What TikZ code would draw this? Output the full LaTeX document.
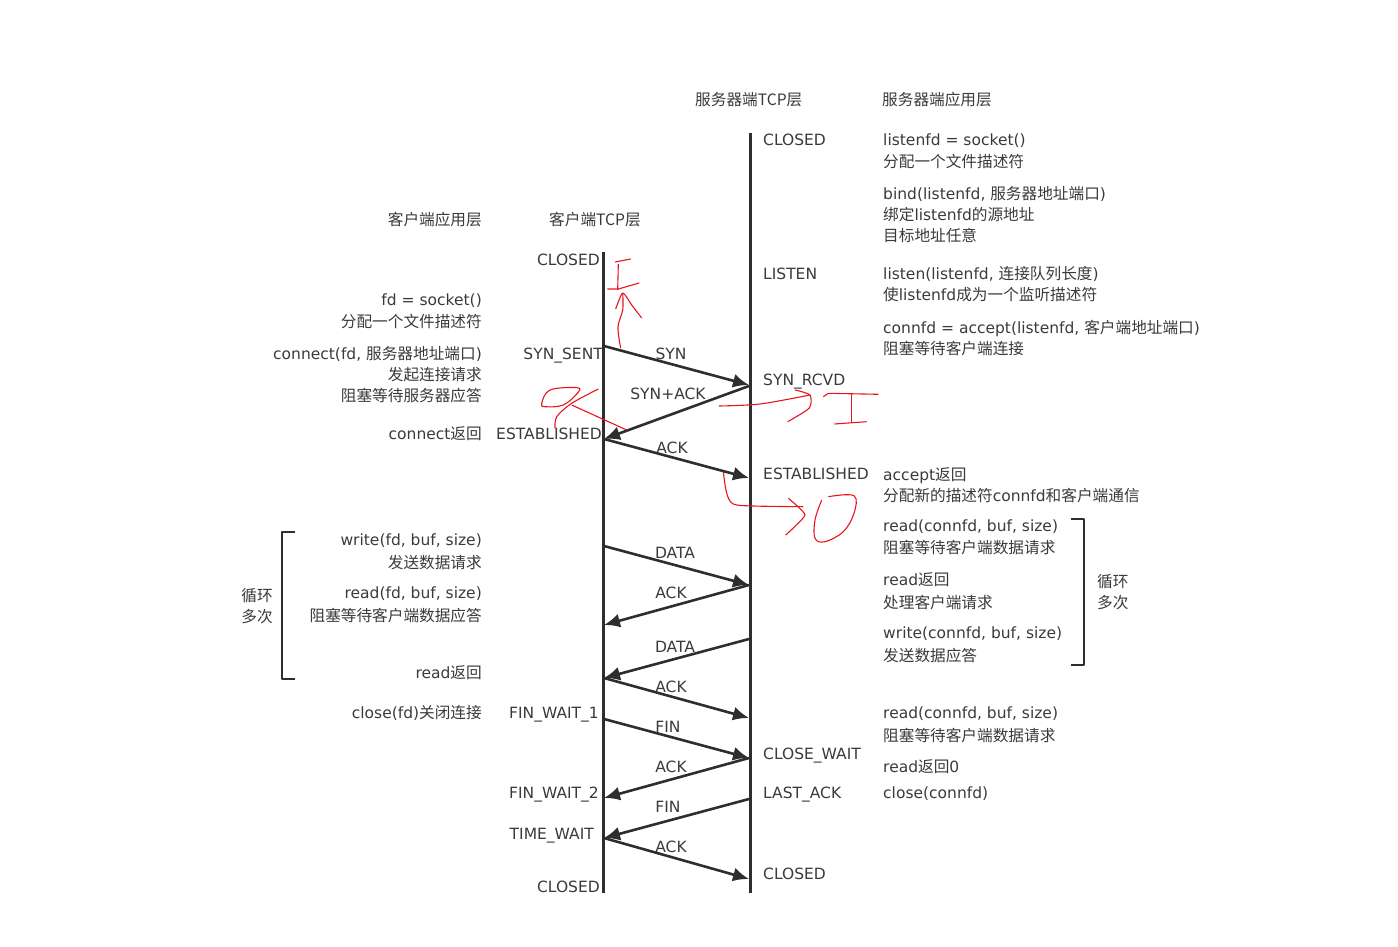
\documentclass[tikz,border=0pt]{standalone}
\usepackage{fontspec}
\usetikzlibrary{arrows.meta}
\setmainfont{DejaVu Sans}
\newfontfamily\cjk[Scale=1.01]{Noto Sans CJK SC}
\newcommand{\zh}[1]{{\cjk #1}}
\definecolor{txtgray}{HTML}{3A3A3A}
\definecolor{linegray}{HTML}{2E2E2E}
\definecolor{inkred}{HTML}{E8141C}
\tikzset{
    lab/.style={inner sep=0mm, text=txtgray, execute at begin node=\strut,
        font=\fontsize{15.5}{21}\selectfont, yshift=9.2pt},
    rlab/.style={lab, anchor=north east, align=right},
    llab/.style={lab, anchor=north west, align=left},
    msglab/.style={lab, anchor=north},
    life/.style={draw=linegray, line width=3pt},
    msg/.style={draw=linegray, line width=2.6pt, -{Latex[length=16pt,width=14pt]}},
    brack/.style={draw=linegray, line width=2.8pt, line join=round},
    ink/.style={draw=inkred, line width=1.1pt, line join=round}
}

\begin{document}
\begin{tikzpicture}[x=1pt, y=-1pt]
    \useasboundingbox (0,0) rectangle (1398,947);
    % ends of the two time lines
    \coordinate (ctop) at (603.5,252);
    \coordinate (cbot) at (603.5,893);
    \coordinate (stop) at (750,133);
    \coordinate (sbot) at (750,893);

    % ends of the messages
    \coordinate (c1) at (604,346);  \coordinate (s1) at (749,385);
    \coordinate (s2) at (749,386);  \coordinate (c2) at (604,439);
    \coordinate (c3) at (604,439);  \coordinate (s3) at (749,478);
    \coordinate (c4) at (604,546);  \coordinate (s4) at (749,585);
    \coordinate (s5) at (749,585);  \coordinate (c5) at (604,625);
    \coordinate (s6) at (749,639);  \coordinate (c6) at (604,678);
    \coordinate (c7) at (604,678);  \coordinate (s7) at (749,718);
    \coordinate (c8) at (604,719);  \coordinate (s8) at (749,758);
    \coordinate (s9) at (749,758);  \coordinate (c9) at (604,798);
    \coordinate (s10) at (749,799); \coordinate (c10) at (604,838);
    \coordinate (c11) at (604,838); \coordinate (s11) at (749,879);

    % brackets
    \coordinate (bl1) at (295,532); \coordinate (bl2) at (282,532);
    \coordinate (bl3) at (282,679); \coordinate (bl4) at (295,679);
    \coordinate (br1) at (1071,519); \coordinate (br2) at (1084,519);
    \coordinate (br3) at (1084,665); \coordinate (br4) at (1071,665);

    % column heads
    \node (hca) [rlab] at (482,220) {\zh{客户端应用层}};
    \node (hct) [llab] at (549,220) {\zh{客户端TCP层}};
    \node (hst) [llab] at (695,100) {\zh{服务器端TCP层}};
    \node (hsa) [llab] at (882,100) {\zh{服务器端应用层}};

    % client states
    \node (cs1) [rlab] at (600,260) {CLOSED};
    \node (cs2) [rlab] at (603,354) {SYN\_SENT};
    \node (cs3) [rlab] at (602,434) {ESTABLISHED};
    \node (cs4) [rlab] at (599,713) {FIN\_WAIT\_1};
    \node (cs5) [rlab] at (599,793) {FIN\_WAIT\_2};
    \node (cs6) [rlab] at (594,834) {TIME\_WAIT};
    \node (cs7) [rlab] at (600,887) {CLOSED};

    % server states
    \node (ss1) [llab] at (763,140) {CLOSED};
    \node (ss2) [llab] at (763,274) {LISTEN};
    \node (ss3) [llab] at (763,380) {SYN\_RCVD};
    \node (ss4) [llab] at (763,474) {ESTABLISHED};
    \node (ss5) [llab] at (763,754) {CLOSE\_WAIT};
    \node (ss6) [llab] at (763,793) {LAST\_ACK};
    \node (ss7) [llab] at (763,874) {CLOSED};

    % client calls
    \node (ca1) [rlab] at (482,303) {fd = socket()\\[1pt]\zh{分配一个文件描述符}};
    \node (ca2) [rlab] at (482,355) {connect(fd, \zh{服务器地址端口})\\\zh{发起连接请求}\\\zh{阻塞等待服务器应答}};
    \node (ca3) [rlab] at (482,434) {connect\zh{返回}};
    \node (ca4) [rlab] at (482,543) {write(fd, buf, size)\\[2pt]\zh{发送数据请求}};
    \node (ca5) [rlab] at (482,596) {read(fd, buf, size)\\[2pt]\zh{阻塞等待客户端数据应答}};
    \node (ca6) [rlab] at (482,673) {read\zh{返回}};
    \node (ca7) [rlab] at (482,713) {close(fd)\zh{关闭连接}};
    \node (cl) [rlab] at (273,597) {\zh{循环}\\\zh{多次}};

    % server calls
    \node (sa1) [llab] at (883,143) {listenfd = socket()\\[1pt]\zh{分配一个文件描述符}};
    \node (sa2) [llab] at (883,195) {bind(listenfd, \zh{服务器地址端口})\\\zh{绑定}listenfd\zh{的源地址}\\\zh{目标地址任意}};
    \node (sa3) [llab] at (883,275) {listen(listenfd, \zh{连接队列长度})\\\zh{使}listenfd\zh{成为一个监听描述符}};
    \node (sa4) [llab] at (883,329) {connfd = accept(listenfd, \zh{客户端地址端口})\\\zh{阻塞等待客户端连接}};
    \node (sa5) [llab] at (883,477) {accept\zh{返回}\\\zh{分配新的描述符}connfd\zh{和客户端通信}};
    \node (sa6) [llab] at (883,529) {read(connfd, buf, size)\\[1pt]\zh{阻塞等待客户端数据请求}};
    \node (sa7) [llab] at (883,582) {read\zh{返回}\\[2pt]\zh{处理客户端请求}};
    \node (sa8) [llab] at (883,636) {write(connfd, buf, size)\\[2pt]\zh{发送数据应答}};
    \node (sa9) [llab] at (883,716) {read(connfd, buf, size)\\[2pt]\zh{阻塞等待客户端数据请求}};
    \node (sa10) [llab] at (883,767) {read\zh{返回}0};
    \node (sa11) [llab] at (883,793) {close(connfd)};
    \node (sl) [llab] at (1097,583) {\zh{循环}\\\zh{多次}};

    % message labels
    \node (m1) [msglab] at (671,354) {SYN};
    \node (m2) [msglab] at (668,394) {SYN+ACK};
    \node (m3) [msglab] at (672,448) {ACK};
    \node (m4) [msglab] at (675,553) {DATA};
    \node (m5) [msglab] at (671,593) {ACK};
    \node (m6) [msglab] at (675,647) {DATA};
    \node (m7) [msglab] at (671,687) {ACK};
    \node (m8) [msglab] at (668,727) {FIN};
    \node (m9) [msglab] at (671,767) {ACK};
    \node (m10) [msglab] at (668,807) {FIN};
    \node (m11) [msglab] at (671,847) {ACK};

    \draw [life] (ctop) -- (cbot);
    \draw [life] (stop) -- (sbot);

    \draw [msg] (c1) -- (s1);
    \draw [msg] (s2) -- (c2);
    \draw [msg] (c3) -- (s3);
    \draw [msg] (c4) -- (s4);
    \draw [msg] (s5) -- (c5);
    \draw [msg] (s6) -- (c6);
    \draw [msg] (c7) -- (s7);
    \draw [msg] (c8) -- (s8);
    \draw [msg] (s9) -- (c9);
    \draw [msg] (s10) -- (c10);
    \draw [msg] (c11) -- (s11);

    \draw [brack] (bl1) -- (bl2) -- (bl3) -- (bl4);
    \draw [brack] (br1) -- (br2) -- (br3) -- (br4);

    % handwriting on top
    \draw [ink] plot [smooth, tension=.6] coordinates {(620.7,348) (618,327) (622.7,310) (622.7,293)};
    \draw [ink] plot [smooth, tension=.4] coordinates {(615.7,309) (622.7,293) (631.7,305) (641.7,318)};
    \draw [ink] (615,262) -- (630.7,259);
    \draw [ink] (618.3,264) -- (617.7,290);
    \draw [ink] (607.3,289) -- (618.3,289) -- (639.3,283);

    \draw [ink] plot [smooth, tension=.5] coordinates {(719,406) (760,404) (810,395)};
    \draw [ink] plot [smooth, tension=.4] coordinates {(795,390) (810,395) (809.3,408) (787.7,421.7)};
    \draw [ink] (823.3,396.7) -- (828.3,393.3) -- (878.3,394.3);
    \draw [ink] (851.7,393.3) -- (851.7,421.7);
    \draw [ink] (834.3,424) -- (866.7,421.7);

    \draw [ink] plot [smooth cycle, tension=.6] coordinates {(541.7,403.3) (550,390) (577.3,387.7) (577.3,393.3) (563.3,405) (545,406.7)};
    \draw [ink] plot [smooth, tension=.5] coordinates {(555,428.3) (556.7,416.7) (571.7,403.3) (598.3,389)};
    \draw [ink] (571.7,405) -- (626.7,430);

    \draw [ink] plot [smooth, tension=.5] coordinates {(723.3,471.7) (726.7,493.3) (733.3,504) (753.3,506) (803.3,506.7)};
    \draw [ink] plot [smooth, tension=.3] coordinates {(788.3,498.3) (805,515) (785.7,535)};
    \draw [ink] plot [smooth, tension=.6] coordinates {(828.3,496.7) (854,495.7) (854,513.3) (843.3,531.7) (825,541.7) (815,538.3) (815,520) (821.7,500)};
\end{tikzpicture}
\end{document}
